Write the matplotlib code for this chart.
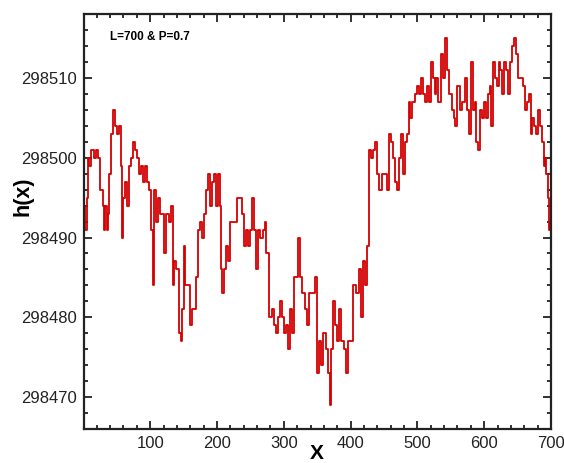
import numpy as np
import matplotlib
matplotlib.use('Agg')
import matplotlib.pyplot as plt
from matplotlib.ticker import MultipleLocator, ScalarFormatter

plt.rcParams['font.family'] = ['Liberation Sans', 'DejaVu Sans']

# height profile h(x)
x = [1, 3, 5, 7, 9, 12, 16, 19, 22, 25, 29, 31, 33, 35, 37, 39, 42, 45, 47, 51,
     54, 56, 58, 60, 63, 66, 68, 71, 74, 77, 80, 83, 86, 89, 92, 95, 98, 101, 104, 106,
     109, 112, 115, 118, 121, 124, 128, 131, 134, 136, 139, 143, 146, 148, 150, 152, 157, 160, 163, 168,
     172, 175, 178, 180, 183, 186, 189, 192, 195, 198, 201, 204, 206, 208, 210, 213, 217, 220, 225, 230,
     235, 238, 241, 244, 247, 250, 252, 255, 258, 261, 265, 269, 272, 274, 278, 282, 285, 288, 291, 294,
     298, 300, 303, 306, 309, 312, 316, 321, 324, 327, 331, 334, 337, 343, 347, 350, 353, 356, 359, 363,
     366, 369, 371, 373, 376, 379, 383, 386, 390, 393, 396, 400, 403, 408, 412, 415, 418, 421, 424, 427,
     431, 434, 437, 440, 443, 447, 451, 454, 457, 460, 463, 466, 469, 472, 475, 478, 481, 484, 487, 489,
     492, 496, 500, 503, 506, 509, 512, 515, 518, 520, 523, 526, 528, 531, 535, 538, 542, 545, 548, 552,
     555, 557, 560, 564, 567, 571, 574, 577, 580, 583, 586, 588, 590, 593, 597, 600, 603, 605, 608, 610,
     613, 616, 619, 622, 624, 627, 630, 633, 635, 638, 641, 644, 647, 650, 655, 658, 661, 664, 667, 670,
     672, 675, 678, 680, 683, 686, 689, 691, 693, 695, 697, 698, 700]
h = [298494, 298491, 298495, 298500, 298499, 298501, 298500, 298501, 298500, 298496,
     298494, 298491, 298494, 298491, 298493, 298498, 298503, 298506, 298504, 298503,
     298504, 298499, 298490, 298495, 298497, 298494, 298499, 298500, 298502, 298501,
     298500, 298498, 298499, 298497, 298499, 298497, 298496, 298491, 298484, 298496,
     298492, 298495, 298493, 298493, 298488, 298493, 298492, 298494, 298484, 298487,
     298486, 298478, 298477, 298481, 298489, 298484, 298484, 298479, 298481, 298485,
     298491, 298492, 298490, 298493, 298496, 298498, 298494, 298497, 298498, 298494,
     298498, 298494, 298486, 298483, 298486, 298489, 298487, 298492, 298492, 298495,
     298495, 298493, 298489, 298491, 298489, 298491, 298495, 298491, 298486, 298491,
     298490, 298491, 298492, 298488, 298480, 298481, 298479, 298478, 298480, 298482,
     298480, 298478, 298479, 298476, 298481, 298478, 298485, 298490, 298485, 298483,
     298481, 298479, 298483, 298483, 298485, 298473, 298477, 298474, 298478, 298476,
     298473, 298469, 298476, 298482, 298479, 298477, 298481, 298477, 298476, 298473,
     298477, 298477, 298484, 298483, 298486, 298480, 298487, 298484, 298489, 298501,
     298500, 298501, 298502, 298498, 298496, 298498, 298498, 298496, 298503, 298502,
     298500, 298497, 298496, 298500, 298503, 298498, 298502, 298503, 298507, 298505,
     298507, 298508, 298509, 298508, 298510, 298508, 298507, 298509, 298507, 298512,
     298510, 298508, 298510, 298507, 298513, 298510, 298515, 298511, 298508, 298506,
     298505, 298504, 298509, 298506, 298507, 298510, 298506, 298503, 298512, 298506,
     298507, 298502, 298501, 298506, 298505, 298507, 298505, 298508, 298509, 298504,
     298512, 298510, 298509, 298512, 298511, 298508, 298512, 298511, 298508, 298512,
     298514, 298515, 298513, 298510, 298510, 298509, 298506, 298507, 298508, 298503,
     298505, 298504, 298503, 298506, 298504, 298502, 298499, 298500, 298498, 298495,
     298491, 298492, 298491]

fig = plt.figure(figsize=(5.64, 4.63), dpi=100)
ax = fig.add_axes([0.149, 0.073, 0.828, 0.897])

ax.plot(x, h, color='#d40000', lw=1.3, drawstyle='steps-post')

ax.set_xlim(1, 700)
ax.set_ylim(298466, 298518)
ax.xaxis.set_major_locator(MultipleLocator(100))
ax.xaxis.set_minor_locator(MultipleLocator(20))
ax.yaxis.set_major_locator(MultipleLocator(10))
ax.yaxis.set_minor_locator(MultipleLocator(2))
fmt = ScalarFormatter(useOffset=False)
ax.yaxis.set_major_formatter(fmt)

ax.tick_params(which='both', direction='in', top=True, right=True, width=1.3, colors='#222222')
ax.tick_params(which='major', length=6, labelsize=12, pad=5)
ax.tick_params(which='minor', length=3)
for s in ax.spines.values():
    s.set_linewidth(1.6)
    s.set_color('#222222')

ax.set_ylabel('h(x)', fontsize=15.5, fontweight='bold')
ax.yaxis.set_label_coords(-0.108, 0.56)
fig.text(0.562, 0.001, 'X', fontsize=15, fontweight='bold', ha='center', va='bottom')
ax.text(0.056, 0.945, 'L=700 & P=0.7', transform=ax.transAxes, fontsize=8.5,
        fontweight='bold', va='center', ha='left')

plt.savefig('out.png', dpi=100)
